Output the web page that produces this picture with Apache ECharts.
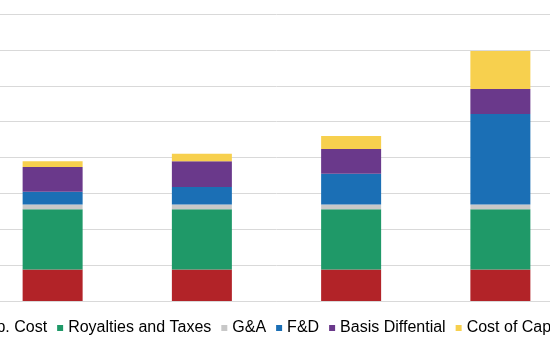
<!DOCTYPE html>
<html>
<head>
<meta charset="utf-8">
<script src="https://cdn.jsdelivr.net/npm/echarts@6/dist/echarts.min.js"></script>
<style>
html,body{margin:0;padding:0;width:550px;height:344px;overflow:hidden;background:#fff;}
#chart{position:absolute;left:-40px;top:0;width:640px;height:344px;}
</style>
</head>
<body>
<div id="chart"></div>
<script>
const categories = ["Case 1", "Case 2", "Case 3", "Case 4"];
const opCost = [4.4, 4.4, 4.4, 4.4];
const royalties = [8.4, 8.4, 8.4, 8.4];
const gAndA = [0.65, 0.65, 0.65, 0.65];
const fAndD = [1.76, 2.45, 4.3, 12.6];
const basisDiff = [3.47, 3.57, 3.43, 3.5];
const costOfCap = [0.79, 1.07, 1.8, 5.3];
const seriesNames = ["Op. Cost", "Royalties and Taxes", "G&A", "F&D", "Basis Diffential", "Cost of Capital"];
const seriesColors = ["#B22328", "#1F9968", "#C8C8C8", "#1B6FB5", "#6A398B", "#F7D04E"];
const seriesData = [opCost, royalties, gAndA, fAndD, basisDiff, costOfCap];

const chart = echarts.init(document.getElementById('chart'), null, {renderer: 'canvas'});
chart.setOption({
  animation: false,
  color: seriesColors,
  grid: {left: 18, right: 25, top: 14, bottom: 43, containLabel: false},
  legend: {
    top: 320,
    left: 13,
    padding: 0,
    itemWidth: 6,
    itemHeight: 6,
    itemGap: 10,
    icon: 'rect',
    textStyle: {fontFamily: 'Liberation Sans, Arial, sans-serif', fontSize: 16, color: '#000'},
    data: seriesNames
  },
  xAxis: {
    type: 'category',
    data: categories,
    axisLine: {lineStyle: {color: '#D9D9D9', width: 1}},
    axisTick: {show: false},
    axisLabel: {show: false}
  },
  yAxis: {
    type: 'value',
    min: 0, max: 40, interval: 5,
    axisLabel: {show: false},
    axisLine: {show: false},
    axisTick: {show: false},
    splitLine: {lineStyle: {color: '#D9D9D9', width: 1}}
  },
  series: seriesNames.map((n, i) => ({
    name: n,
    type: 'bar',
    stack: 'total',
    barWidth: 60,
    data: seriesData[i],
    itemStyle: {color: seriesColors[i]}
  }))
});
</script>
</body>
</html>
